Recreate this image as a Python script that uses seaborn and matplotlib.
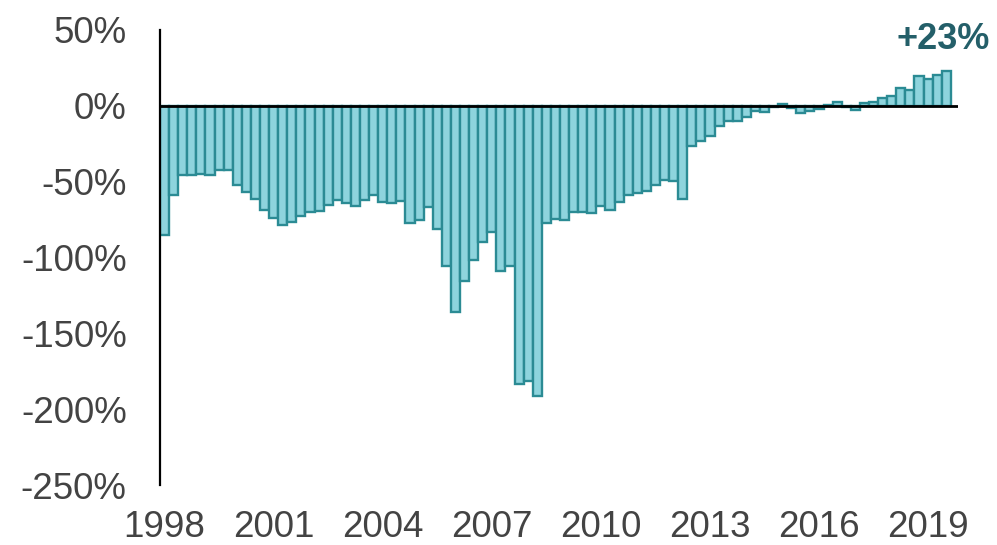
import matplotlib
matplotlib.use("Agg")
import matplotlib.pyplot as plt
import seaborn as sns
import pandas as pd

years = list(range(1998, 2020))
quarters = [f"{y}Q{q}" for y in years for q in range(1, 5)][:87]

values = [
    -85, -59, -45.5, -45.3, -44.8, -45.7, -42.6, -42.4, -52.3, -56.7,
    -61.5, -68.8, -73.8, -78.4, -76.7, -72.7, -70.3, -69.4, -65.5, -61.8,
    -64.2, -66.1, -62, -58.5, -63.3, -64.2, -62.8, -77.3, -75.4, -67,
    -81.5, -105.9, -136, -115.6, -101.5, -89.7, -83.1, -109.2, -105.5, -183.7,
    -181.7, -191, -77.1, -74.3, -75.1, -69.7, -69.7, -70.8, -65.9, -68.6,
    -63.5, -58.7, -57.6, -56, -52.1, -49, -49.7, -61.5, -26.6, -23.5,
    -20, -13.2, -9.7, -9.9, -7.3, -3.5, -4.4, -1.1, 1.3, -1.3,
    -4.8, -3.5, -1.8, 0.5, 2.5, -0.8, -3, 1.8, 2.8, 5.1,
    6.2, 11.9, 10.6, 19.5, 18, 20.4, 23,
]

tick_years = ["1998", "2001", "2004", "2007", "2010", "2013", "2016", "2019"]
tick_labels_y = ["50%", "0%", "-50%", "-100%", "-150%", "-200%", "-250%"]
tick_values_y = [50, 0, -50, -100, -150, -200, -250]
annotation = "+23%"

df = pd.DataFrame({"quarter": quarters, "value": values})

sns.set_theme(style="white")
plt.rcParams["font.family"] = ["Liberation Sans", "DejaVu Sans"]

fig = plt.figure(figsize=(9.97, 5.45), dpi=100)
ax = fig.add_axes([0.1605, 0.110, 0.8005, 0.835])

sns.barplot(data=df, x="quarter", y="value", ax=ax, color="#8ED4DD",
            saturation=1, width=1.0, edgecolor="#2B8B94", linewidth=1.7)

ax.set_ylim(-250, 50)
ax.set_xlim(-0.5, 87.3)
ax.axhline(0, color="black", lw=2.0, zorder=5)

ax.set_yticks(tick_values_y)
ax.set_yticklabels(tick_labels_y)
ax.set_xticks([quarters.index(f"{y}Q1") for y in tick_years])
ax.set_xticklabels(tick_years)

ax.tick_params(axis="y", length=0, pad=24, labelsize=26.5, labelcolor="#434343")
ax.tick_params(axis="x", length=0, pad=18, labelsize=26.5, labelcolor="#434343")

for s in ["top", "right", "bottom"]:
    ax.spines[s].set_visible(False)
ax.spines["left"].set_color("black")
ax.spines["left"].set_linewidth(1.6)

ax.set_xlabel("")
ax.set_ylabel("")

fig.text(0.993, 1 - 39 / 545, annotation, ha="right", va="center",
         fontsize=26, fontweight="bold", color="#245F69")

fig.savefig("out.png", dpi=100)
